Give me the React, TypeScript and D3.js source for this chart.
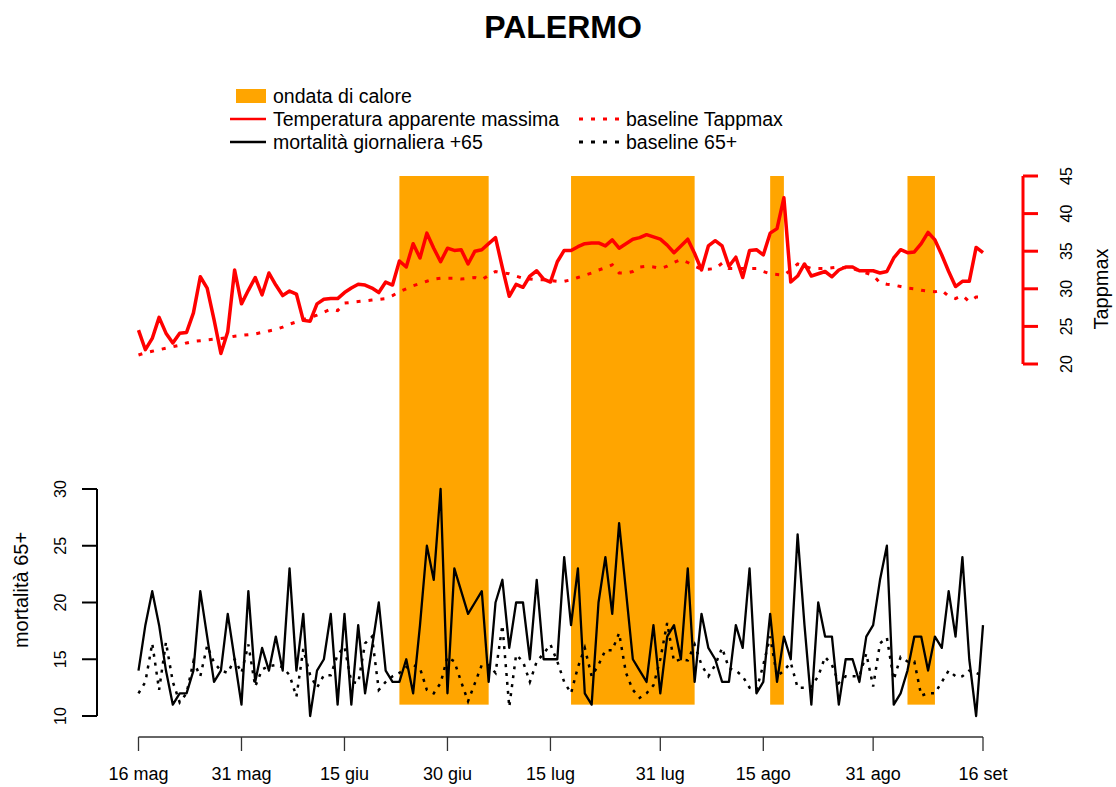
import { scaleLinear, scaleTime, line, timeDay } from 'd3'

// Palermo: apparent max temperature (top, right axis) and daily deaths 65+
// (bottom, left axis), with heat-wave periods shaded in orange.
const START = new Date(2017, 4, 16)
const END = new Date(2017, 8, 16)

const TAPPMAX = [
  24.5, 21.9, 23.4, 26.2, 24.1, 22.8, 24.1, 24.2, 26.8, 31.6, 30.1, 25.9, 21.4, 24.3, 32.5, 28.0,
  29.8, 31.5, 29.2, 32.1, 30.5, 29.1, 29.7, 29.3, 25.8, 25.7, 28.0, 28.6, 28.7, 28.7, 29.5, 30.1,
  30.6, 30.5, 30.1, 29.5, 30.9, 30.5, 33.7, 32.9, 36.0, 34.1, 37.4, 35.4, 33.6, 35.4, 35.1, 35.2,
  33.3, 35.0, 35.2, 36.0, 36.8, 32.8, 29.0, 30.6, 30.2, 31.7, 32.4, 31.3, 30.9, 33.6, 35.1, 35.1,
  35.6, 36.0, 36.1, 36.1, 35.7, 36.5, 35.4, 36.0, 36.6, 36.8, 37.2, 36.9, 36.6, 35.8, 34.8, 35.7,
  36.6, 34.7, 32.5, 35.7, 36.4, 35.7, 33.0, 34.2, 31.5, 35.1, 35.2, 34.5, 37.4, 38.0, 42.1, 30.9,
  31.7, 33.3, 31.7, 32.0, 32.3, 31.6, 32.5, 32.9, 32.9, 32.4, 32.4, 32.4, 32.1, 32.3, 34.1, 35.2,
  34.8, 34.9, 36.0, 37.5, 36.5, 34.5, 32.3, 30.3, 31.0, 31.0, 35.5, 34.8,
]

const BASE_TAPPMAX = [
  21.2, 21.5, 21.7, 21.9, 22.1, 22.3, 22.5, 22.8, 23.0, 23.1, 23.2, 23.3, 23.4, 23.5, 23.7, 23.8,
  23.9, 24.0, 24.2, 24.4, 24.6, 24.9, 25.3, 25.6, 25.9, 26.2, 26.5, 26.9, 27.3, 27.1, 28.1, 28.2,
  28.3, 28.4, 28.5, 28.6, 28.7, 29.1, 29.6, 30.0, 30.4, 30.7, 31.0, 31.3, 31.4, 31.4, 31.4, 31.3,
  31.4, 31.5, 31.2, 31.8, 32.3, 32.1, 32.0, 31.7, 31.4, 31.3, 31.2, 31.2, 31.1, 31.0, 31.0, 31.2,
  31.5, 31.8, 32.1, 32.5, 32.8, 33.2, 32.1, 32.1, 32.3, 32.9, 33.0, 32.9, 32.7, 33.0, 33.5, 33.9,
  33.5, 33.0, 32.6, 32.6, 32.7, 33.4, 32.7, 32.7, 32.7, 32.7, 32.7, 32.3, 32.0, 31.9, 31.8, 32.5,
  33.3, 33.0, 32.7, 32.7, 32.7, 32.8, 32.9, 32.8, 32.7, 32.4, 32.1, 31.8, 30.8, 30.6, 30.5, 30.3,
  30.1, 30.0, 29.8, 29.7, 29.6, 29.8, 29.0, 28.7, 29.1, 28.3, 28.9, 28.9,
]

const DEATHS = [
  14, 18, 21, 18, 14, 11, 12, 12, 14, 21, 17, 13, 14, 19, 15, 11,
  21, 13, 16, 14, 17, 14, 23, 14, 19, 10, 14, 15, 19, 11, 19, 11,
  18, 12, 16, 20, 14, 13, 13, 15, 12, 18, 25, 22, 30, 12, 23, 21,
  19, 20, 21, 13, 20, 22, 16, 20, 20, 15, 22, 15, 15, 15, 24, 18,
  23, 12, 11, 20, 24, 19, 27, 21, 15, 14, 13, 18, 12, 17, 18, 15,
  23, 13, 19, 16, 15, 13, 13, 18, 16, 23, 12, 13, 19, 13, 17, 15,
  26, 18, 11, 20, 17, 17, 11, 15, 15, 13, 17, 18, 22, 25, 11, 12,
  14, 17, 17, 14, 17, 16, 21, 17, 24, 15, 10, 18,
]

const BASE_DEATHS = [
  12.0, 13.0, 16.4, 12.3, 16.5, 13.0, 11.2, 12.0, 14.8, 13.5, 16.2, 14.7, 14.0, 13.8, 15.0, 13.8,
  16.3, 12.6, 14.1, 14.4, 14.5, 14.3, 13.6, 11.7, 15.9, 13.6, 12.5, 13.6, 13.6, 15.4, 16.1, 13.0,
  12.9, 16.4, 17.0, 12.3, 13.0, 13.5, 13.8, 14.3, 14.5, 14.2, 12.3, 12.0, 12.9, 15.2, 14.8, 13.0,
  11.3, 12.9, 14.5, 14.5, 13.8, 18.0, 10.8, 15.4, 14.8, 13.0, 14.8, 15.5, 16.3, 14.8, 13.0, 12.0,
  14.3, 16.0, 13.5, 14.5, 15.8, 15.8, 17.3, 13.8, 12.3, 11.6, 12.0, 12.7, 15.0, 18.2, 14.8, 15.0,
  14.9, 16.3, 14.5, 13.5, 14.5, 16.0, 14.2, 14.0, 13.5, 12.5, 12.3, 14.5, 17.0, 13.5, 14.0, 14.7,
  12.5, 12.5, 12.6, 13.5, 15.2, 14.5, 12.9, 13.5, 13.5, 13.5, 15.5, 12.6, 16.4, 16.9, 13.2, 15.2,
  14.8, 14.8, 11.8, 12.0, 12.0, 13.0, 14.0, 13.5, 13.5, 14.0, 13.8, 13.5,
]

// heat waves, first and last day
const HEAT_WAVES: [Date, Date][] = [
  [new Date(2017, 5, 23), new Date(2017, 6, 6)],
  [new Date(2017, 6, 18), new Date(2017, 7, 5)],
  [new Date(2017, 7, 16), new Date(2017, 7, 18)],
  [new Date(2017, 8, 5), new Date(2017, 8, 9)],
]

const X_TICKS = [
  new Date(2017, 4, 16), new Date(2017, 4, 31), new Date(2017, 5, 15), new Date(2017, 5, 30),
  new Date(2017, 6, 15), new Date(2017, 6, 31), new Date(2017, 7, 15), new Date(2017, 7, 31),
  new Date(2017, 8, 16),
]
const X_LABELS = ['16 mag', '31 mag', '15 giu', '30 giu', '15 lug', '31 lug', '15 ago', '31 ago', '16 set']
const T_TICKS = [20, 25, 30, 35, 40, 45]
const M_TICKS = [10, 15, 20, 25, 30]

const RED = '#ff0000'
const ORANGE = '#ffa500'
const FONT = '"Liberation Sans", Arial, sans-serif'

export default function App() {
  const x = scaleTime().domain([START, END]).range([138.5, 983])
  const yT = scaleLinear().domain([20, 45]).range([364, 176])
  const yM = scaleLinear().domain([10, 30]).range([716, 489])
  const day = (i: number) => x(timeDay.offset(START, i))

  const tLine = line<number>().x((_, i) => day(i)).y((d) => yT(d))
  const mLine = line<number>().x((_, i) => day(i)).y((d) => yM(d))

  return (
    <div style={{ position: 'absolute', left: 0, top: 0 }}>
      <svg width={1116} height={787} style={{ display: 'block', background: '#fff' }} fontFamily={FONT}>
        <text x={563} y={38} textAnchor="middle" fontSize={32} fontWeight="bold">
          PALERMO
        </text>

        {HEAT_WAVES.map(([a, b], i) => (
          <rect key={i} x={x(a)} y={yT(45)} width={x(b) - x(a)} height={yM(11) - yT(45)} fill={ORANGE} />
        ))}

        <path d={tLine(BASE_TAPPMAX) ?? ''} fill="none" stroke={RED} strokeWidth={3} strokeDasharray="4 8" />
        <path d={tLine(TAPPMAX) ?? ''} fill="none" stroke={RED} strokeWidth={3.5} strokeLinejoin="round" />
        <path d={mLine(BASE_DEATHS) ?? ''} fill="none" stroke="#000" strokeWidth={2.5} strokeDasharray="3 6" />
        <path d={mLine(DEATHS) ?? ''} fill="none" stroke="#000" strokeWidth={2.3} strokeLinejoin="round" />

        {/* x axis */}
        <g>
          <line x1={x(START)} x2={x(END)} y1={737} y2={737} stroke="#333" strokeWidth={1.3} />
          {X_TICKS.map((t, i) => (
            <g key={i}>
              <line x1={x(t)} x2={x(t)} y1={737} y2={751} stroke="#333" strokeWidth={1.3} />
              <text x={x(t)} y={780} textAnchor="middle" fontSize={18}>
                {X_LABELS[i]}
              </text>
            </g>
          ))}
        </g>

        {/* left axis: mortality */}
        <g>
          <line x1={97} x2={97} y1={yM(30)} y2={yM(10)} stroke="#000" strokeWidth={2} />
          {M_TICKS.map((t) => (
            <g key={t}>
              <line x1={82} x2={97} y1={yM(t)} y2={yM(t)} stroke="#000" strokeWidth={2} />
              <text transform={`translate(66,${yM(t)}) rotate(-90)`} textAnchor="middle" fontSize={16}>
                {t}
              </text>
            </g>
          ))}
          <text transform={`translate(28,590) rotate(-90)`} textAnchor="middle" fontSize={20}>
            mortalità 65+
          </text>
        </g>

        {/* right axis: Tappmax */}
        <g>
          <line x1={1023} x2={1023} y1={yT(45)} y2={yT(20)} stroke={RED} strokeWidth={3} />
          {T_TICKS.map((t) => (
            <g key={t}>
              <line x1={1023} x2={1038} y1={yT(t)} y2={yT(t)} stroke={RED} strokeWidth={3} />
              <text transform={`translate(1072,${yT(t)}) rotate(-90)`} textAnchor="middle" fontSize={16}>
                {t}
              </text>
            </g>
          ))}
          <text transform={`translate(1108,289) rotate(-90)`} textAnchor="middle" fontSize={20}>
            Tappmax
          </text>
        </g>

        {/* legend */}
        <g fontSize={19.5}>
          <rect x={236} y={89} width={30} height={14} fill={ORANGE} />
          <text x={273} y={103}>ondata di calore</text>
          <line x1={230} x2={266} y1={119} y2={119} stroke={RED} strokeWidth={2.5} />
          <text x={273} y={126}>Temperatura apparente massima</text>
          <line x1={230} x2={266} y1={142} y2={142} stroke="#000" strokeWidth={2.5} />
          <text x={273} y={149}>mortalità giornaliera +65</text>
          <line x1={579} x2={619} y1={119} y2={119} stroke={RED} strokeWidth={3} strokeDasharray="4 8" />
          <text x={626} y={126}>baseline Tappmax</text>
          <line x1={579} x2={619} y1={142} y2={142} stroke="#000" strokeWidth={3} strokeDasharray="4 8" />
          <text x={626} y={149}>baseline 65+</text>
        </g>
      </svg>
    </div>
  )
}
